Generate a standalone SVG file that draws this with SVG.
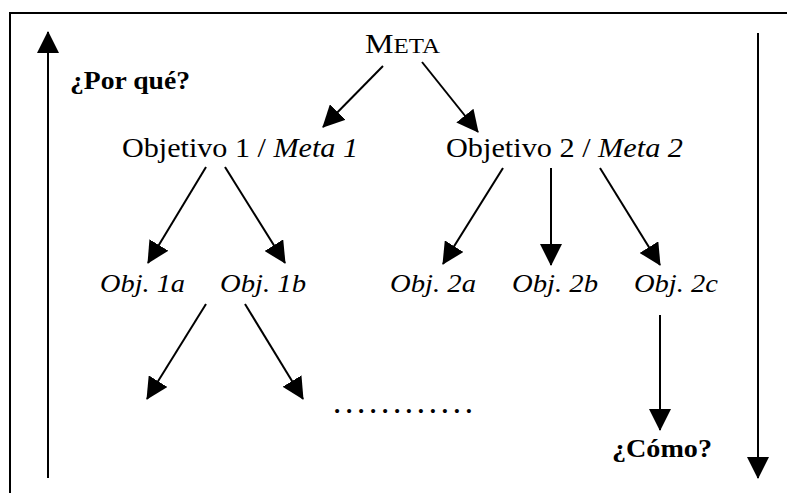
<svg xmlns="http://www.w3.org/2000/svg" width="787" height="493" viewBox="0 0 787 493">
<defs>
<marker id="ah" viewBox="0 0 22 22" refX="21" refY="11" markerWidth="22" markerHeight="22" markerUnits="userSpaceOnUse" orient="auto">
<path d="M0,0 L22,11 L0,22 z" fill="#000"/>
</marker>
</defs>
<style>
.t{font-family:"Liberation Serif","Times New Roman",serif;font-size:27px;fill:#000}
.s{font-size:26px}
.i{font-style:italic}
.b{font-weight:bold;font-size:25px}
.c{stroke:#000;stroke-width:2;fill:none;marker-end:url(#ah)}
.f{stroke:#000;stroke-width:2;fill:none}
</style>
<rect width="787" height="493" fill="#fff"/>
<g id="frame">
<path class="f" d="M10,493 L10,13 L787,13"/>
</g>
<g id="connectors">
<line class="c" x1="48" y1="478" x2="48" y2="32"/>
<line class="c" x1="758" y1="33" x2="758" y2="478"/>
<line class="c" x1="383" y1="66" x2="323" y2="127"/>
<line class="c" x1="422" y1="62" x2="478" y2="132"/>
<line class="c" x1="206" y1="167" x2="148" y2="263"/>
<line class="c" x1="225" y1="167" x2="285" y2="263"/>
<line class="c" x1="503" y1="168" x2="443" y2="264"/>
<line class="c" x1="551" y1="168" x2="551" y2="265"/>
<line class="c" x1="600" y1="168" x2="660" y2="265"/>
<line class="c" x1="206" y1="304" x2="147" y2="399"/>
<line class="c" x1="245" y1="304" x2="303" y2="399"/>
<line class="c" x1="660" y1="315" x2="660" y2="430"/>
</g>
<g id="meta"><text class="t" x="365" y="53" font-size="28" textLength="75" lengthAdjust="spacingAndGlyphs">M<tspan font-size="21">ETA</tspan></text></g>
<g id="porque"><text class="t b" x="70" y="89" textLength="120" lengthAdjust="spacingAndGlyphs">¿Por qué?</text></g>
<g id="obj1"><text class="t" x="122" y="157" textLength="236" lengthAdjust="spacingAndGlyphs">Objetivo 1 / <tspan class="i">Meta 1</tspan></text></g>
<g id="obj2"><text class="t" x="446" y="157" textLength="237" lengthAdjust="spacingAndGlyphs">Objetivo 2 / <tspan class="i">Meta 2</tspan></text></g>
<g id="obj1a"><text class="t i s" x="100" y="292" textLength="85" lengthAdjust="spacingAndGlyphs">Obj. 1a</text></g>
<g id="obj1b"><text class="t i s" x="220" y="292" textLength="86" lengthAdjust="spacingAndGlyphs">Obj. 1b</text></g>
<g id="obj2a"><text class="t i s" x="390" y="292" textLength="86" lengthAdjust="spacingAndGlyphs">Obj. 2a</text></g>
<g id="obj2b"><text class="t i s" x="512" y="292" textLength="86" lengthAdjust="spacingAndGlyphs">Obj. 2b</text></g>
<g id="obj2c"><text class="t i s" x="634" y="292" textLength="84" lengthAdjust="spacingAndGlyphs">Obj. 2c</text></g>
<g id="dots"><text class="t b" x="334" y="413" textLength="138" lengthAdjust="spacing">............</text></g>
<g id="como"><text class="t b" x="612" y="457" textLength="100" lengthAdjust="spacingAndGlyphs">¿Cómo?</text></g>
</svg>
